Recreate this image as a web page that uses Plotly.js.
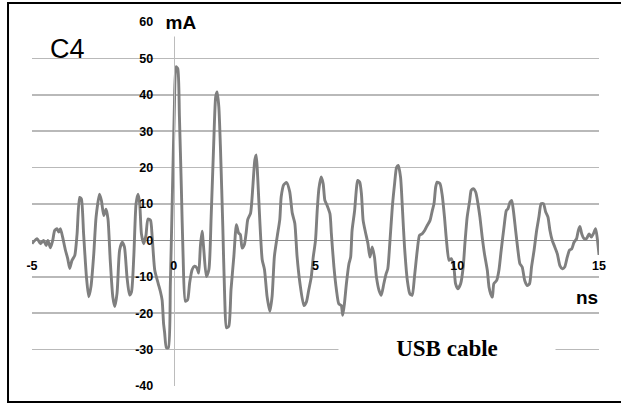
<!DOCTYPE html>
<html>
<head>
<meta charset="utf-8">
<script src="https://cdn.plot.ly/plotly-3.0.1.min.js"></script>
<style>
html,body{margin:0;padding:0;background:#fff;overflow:hidden;}
#chart{width:621px;height:405px;}
</style>
</head>
<body>
<div id="chart"></div>
<script>
const timeNs = [
  -5.00,-4.82,-4.70,-4.59,-4.50,-4.44,-4.35,-4.27,-4.20,-4.12,-4.06,-4.00,-3.92,-3.82,-3.74,-3.67,-3.59,-3.49,-3.41,-3.32,
  -3.26,-3.18,-3.08,-3.00,-2.92,-2.82,-2.74,-2.62,-2.55,-2.47,-2.39,-2.32,-2.24,-2.15,-2.08,-2.00,-1.91,-1.82,-1.74,-1.65,
  -1.56,-1.49,-1.41,-1.33,-1.26,-1.20,-1.14,-1.06,-0.98,-0.91,-0.82,-0.76,-0.67,-0.55,-0.47,-0.41,-0.36,-0.32,-0.26,-0.19,
  -0.12,-0.05,0.02,0.08,0.14,0.20,0.27,0.33,0.41,0.49,0.56,0.65,0.73,0.82,0.88,0.94,1.00,1.06,1.15,1.24,
  1.32,1.41,1.48,1.53,1.59,1.65,1.73,1.80,1.86,1.94,2.02,2.12,2.21,2.29,2.35,2.41,2.49,2.56,2.61,2.71,
  2.79,2.86,2.91,2.96,3.04,3.12,3.20,3.29,3.39,3.47,3.55,3.65,3.74,3.79,3.88,3.98,4.09,4.18,4.27,4.35,
  4.45,4.59,4.68,4.76,4.85,4.92,5.00,5.06,5.12,5.20,5.27,5.33,5.41,5.51,5.56,5.65,5.74,5.82,5.91,5.96,
  6.02,6.09,6.18,6.24,6.29,6.38,6.45,6.49,6.56,6.62,6.68,6.76,6.85,6.92,7.00,7.08,7.15,7.24,7.32,7.41,
  7.49,7.55,7.62,7.71,7.79,7.86,7.92,8.00,8.07,8.14,8.24,8.33,8.41,8.49,8.59,8.67,8.76,8.85,8.94,9.04,
  9.12,9.18,9.24,9.29,9.39,9.47,9.55,9.62,9.71,9.79,9.88,9.94,10.02,10.12,10.21,10.27,10.35,10.44,10.49,10.56,
  10.65,10.73,10.80,10.88,10.96,11.06,11.12,11.18,11.24,11.29,11.39,11.47,11.55,11.65,11.73,11.79,11.86,11.92,11.98,12.06,
  12.14,12.21,12.29,12.38,12.47,12.55,12.62,12.71,12.80,12.88,12.96,13.04,13.12,13.20,13.27,13.35,13.44,13.53,13.62,13.71,
  13.79,13.88,13.96,14.04,14.12,14.21,14.27,14.33,14.39,14.47,14.56,14.65,14.73,14.80,14.88,14.94,15.00
];
const currentMa = [
  -0.9,0.5,-0.9,0.0,-1.4,0.0,-2.0,0.0,2.7,3.2,2.3,3.2,0.9,-2.7,-5.0,-7.7,-5.5,-4.1,1.8,11.8,
  11.4,1.8,-10.0,-15.5,-12.7,-3.6,6.4,12.7,10.9,6.8,8.6,5.9,-5.5,-15.5,-18.2,-14.5,-2.7,-0.5,-1.8,-10.0,
  -15.0,-14.1,-4.5,10.0,12.7,10.0,1.8,-0.9,1.4,5.9,5.5,0.9,-8.2,-11.8,-14.1,-16.4,-22.7,-25.5,-29.5,-29.5,
  -12.0,12.0,36.0,47.7,47.2,34.0,13.9,-4.4,-16.7,-16.3,-11.7,-8.0,-7.1,-7.6,-9.0,-1.6,2.5,-2.6,-9.9,-8.0,
  6.6,26.7,39.5,40.8,36.7,24.8,3.8,-16.3,-24.0,-23.6,-13.5,-4.4,4.3,2.0,1.6,-2.1,-1.2,2.5,5.7,7.5,
  14.8,22.1,23.5,17.5,4.7,-5.3,-8.0,-15.3,-19.5,-15.3,-4.4,1.1,5.7,12.0,15.3,15.9,13.4,7.5,4.7,-4.4,
  -11.7,-17.9,-16.9,-13.7,-10.1,-4.6,0.0,8.2,14.2,17.4,15.6,11.0,9.6,7.3,1.8,-7.3,-13.7,-17.4,-17.9,-20.6,
  -17.4,-11.9,-6.4,-4.6,2.7,8.2,14.7,16.5,16.0,12.8,5.5,2.3,-0.9,-4.6,-1.8,-4.6,-10.1,-13.7,-15.1,-11.9,
  -9.2,-7.8,-0.9,9.2,15.6,20.1,20.6,17.4,8.2,-1.8,-11.0,-14.7,-15.1,-10.1,-2.7,1.4,1.8,2.7,4.1,5.5,
  8.2,10.1,14.7,16.0,15.6,12.4,6.4,0.0,-5.5,-5.0,-7.3,-11.9,-13.3,-11.9,-7.3,-0.9,6.4,11.0,13.7,14.2,
  13.3,10.1,6.4,0.9,-3.7,-8.2,-12.8,-14.7,-15.6,-11.9,-11.0,-8.2,-2.7,3.7,8.2,8.7,10.5,11.0,8.2,2.7,
  -2.7,-6.4,-7.3,-11.0,-12.4,-11.9,-7.3,-2.7,2.7,6.4,10.1,10.1,7.8,6.4,2.7,0.0,-1.8,-3.7,-6.9,-7.8,
  -7.3,-4.6,-2.7,-2.3,-0.5,0.5,2.7,3.8,1.8,0.5,0.5,1.8,0.9,1.8,3.2,0.5,-4.0
];
const xTicks = [-5, 0, 5, 10, 15];
const yTicks = [-40, -30, -20, -10, 0, 10, 20, 30, 40, 50, 60];
const panelLabel = 'C4';
const yUnit = 'mA';
const xUnit = 'ns';
const caption = 'USB cable';

const font = 'Liberation Sans, Arial, sans-serif';

const trace = {
  x: timeNs, y: currentMa, type: 'scatter', mode: 'lines',
  line: {color: '#7f7f7f', width: 2.9, shape: 'spline', smoothing: 0.6},
  hoverinfo: 'skip'
};

const layout = {
  width: 621, height: 405,
  margin: {l: 32, r: 22, t: 22, b: 19, pad: 0},
  paper_bgcolor: '#ffffff', plot_bgcolor: '#ffffff',
  showlegend: false,
  xaxis: {
    range: [-5, 15], tickmode: 'array', tickvals: xTicks, ticktext: xTicks.map(String),
    showgrid: false, zeroline: false, showline: false,
    anchor: 'free', position: 0.4, ticks: '', ticklabelstandoff: 16,
    tickfont: {family: font, size: 12.5, color: '#000', weight: 'bold'}
  },
  yaxis: {
    range: [-40, 60], tickmode: 'array', tickvals: yTicks, ticktext: yTicks.map(String),
    showgrid: true, gridcolor: '#b9b9b9', gridwidth: 1.5,
    zeroline: true, zerolinecolor: '#8f8f8f', zerolinewidth: 1.7,
    showline: true, linecolor: '#bcbcbc', linewidth: 1.3,
    anchor: 'free', position: 0.25, ticks: '', ticklabelstandoff: 18,
    tickfont: {family: font, size: 12.5, color: '#000', weight: 'bold'}
  },
  shapes: [
    {type: 'rect', xref: 'paper', yref: 'paper', x0: -0.003, x1: 0.1587, y0: 0.882, y1: 1.03,
     fillcolor: '#ffffff', line: {width: 0}, layer: 'between'},
    {type: 'rect', xref: 'paper', yref: 'paper', x0: 0.1764, x1: 0.2169, y0: -0.02, y1: 1.02,
     fillcolor: '#ffffff', line: {width: 0}, layer: 'between'},
    {type: 'rect', xref: 'paper', yref: 'paper', x0: -0.0423, x1: 1.0423, y0: -0.044, y1: 1.0522,
     fillcolor: 'rgba(0,0,0,0)', line: {color: '#000', width: 2}, layer: 'above'}
  ],
  annotations: [
    {text: panelLabel, xref: 'paper', yref: 'paper', x: 0.0626, y: 0.9258, showarrow: false,
     xanchor: 'center', yanchor: 'middle', font: {family: font, size: 27, color: '#000'}},
    {text: yUnit, xref: 'paper', yref: 'paper', x: 0.2628, y: 1.0, showarrow: false,
     xanchor: 'center', yanchor: 'middle', bgcolor: '#ffffff', width: 50, height: 26,
     font: {family: font, size: 19, color: '#000', weight: 'bold'}},
    {text: xUnit, xref: 'paper', yref: 'paper', x: 0.9797, y: 0.2418, showarrow: false,
     xanchor: 'center', yanchor: 'middle', font: {family: font, size: 19, color: '#000', weight: 'bold'}},
    {text: caption, xref: 'paper', yref: 'paper', x: 0.7319, y: 0.1044, showarrow: false,
     xanchor: 'center', yanchor: 'middle', bgcolor: '#ffffff', width: 214, height: 28,
     font: {family: 'Liberation Serif, Times New Roman, serif', size: 23, color: '#000', weight: 'bold'}}
  ]
};

Plotly.newPlot('chart', [trace], layout, {displayModeBar: false, staticPlot: true});
</script>
</body>
</html>
